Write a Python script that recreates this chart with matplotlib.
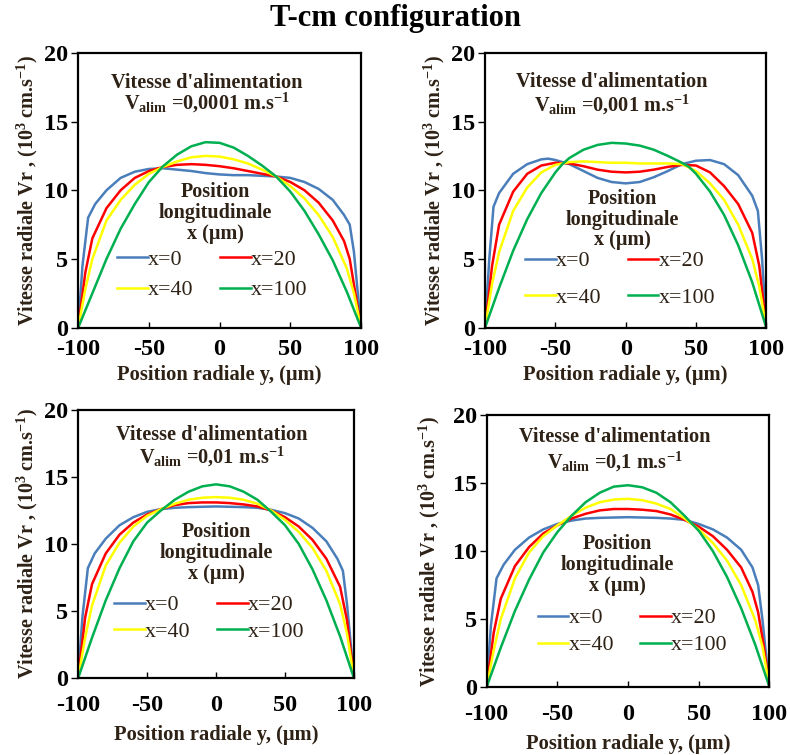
import numpy as np
import matplotlib
matplotlib.use('Agg')
import matplotlib.pyplot as plt

plt.rcParams['font.family'] = 'Liberation Serif'
plt.rcParams['mathtext.fontset'] = 'custom'
plt.rcParams['mathtext.rm'] = 'Liberation Serif:bold'
plt.rcParams['mathtext.it'] = 'Liberation Serif:bold'
plt.rcParams['mathtext.bf'] = 'Liberation Serif:bold'
plt.rcParams['axes.unicode_minus'] = False

# radial positions (um) / radial speed (10^3 cm/s) for each series
y_p1_blue = [-100, -97, -93, -88, -80, -70, -60, -50, -40, -30, -20, -10, 0, 10, 20, 30, 40, 50, 60, 70, 80, 88, 92, 95, 100]
v_p1_blue = [0, 4.5, 8.0, 9.0, 10.0, 10.9, 11.35, 11.55, 11.6, 11.5, 11.4, 11.25, 11.15, 11.1, 11.1, 11.05, 11.0, 10.9, 10.6, 10.1, 9.3, 8.2, 7.5, 5.5, 0]
y_p1_red = [-100, -95, -90, -80, -70, -60, -50, -40, -30, -20, -10, 0, 10, 20, 30, 40, 50, 60, 70, 80, 88, 92, 96, 100]
v_p1_red = [0, 4.0, 6.5, 8.7, 10.0, 10.9, 11.4, 11.7, 11.85, 11.9, 11.85, 11.75, 11.6, 11.4, 11.2, 11.0, 10.6, 10.0, 9.1, 7.8, 6.3, 5.0, 2.5, 0]
y_p1_yellow = [-100, -95, -90, -80, -70, -60, -50, -40, -30, -20, -10, 0, 10, 20, 30, 40, 50, 60, 70, 80, 90, 95, 100]
v_p1_yellow = [0, 2.8, 5.0, 7.8, 9.3, 10.4, 11.2, 11.7, 12.1, 12.4, 12.5, 12.45, 12.25, 11.95, 11.5, 11.0, 10.3, 9.4, 8.2, 6.6, 4.3, 2.5, 0]
y_p1_green = [-100, -90, -80, -70, -60, -50, -40, -30, -20, -10, 0, 10, 20, 30, 40, 50, 60, 70, 80, 90, 100]
v_p1_green = [0, 2.5, 5.0, 7.2, 9.0, 10.6, 11.75, 12.6, 13.2, 13.5, 13.45, 13.1, 12.5, 11.8, 11.0, 9.9, 8.5, 6.8, 4.9, 2.6, 0]

y_p2_blue = [-100, -97, -94, -90, -80, -70, -60, -55, -50, -40, -30, -20, -10, 0, 10, 20, 30, 40, 50, 60, 70, 80, 90, 94, 97, 100]
v_p2_blue = [0, 5.0, 8.8, 9.8, 11.2, 11.9, 12.25, 12.3, 12.2, 11.9, 11.4, 10.9, 10.6, 10.5, 10.6, 10.95, 11.4, 11.9, 12.15, 12.2, 11.9, 11.1, 9.6, 8.5, 5.0, 0]
y_p2_red = [-100, -95, -90, -80, -70, -60, -50, -40, -30, -20, -10, 0, 10, 20, 30, 40, 50, 60, 70, 80, 90, 95, 100]
v_p2_red = [0, 4.5, 7.5, 9.9, 11.2, 11.8, 12.0, 11.95, 11.75, 11.5, 11.35, 11.3, 11.35, 11.5, 11.7, 11.85, 11.8, 11.3, 10.3, 9.0, 6.9, 4.5, 0]
y_p2_yellow = [-100, -95, -90, -80, -70, -60, -50, -40, -30, -20, -10, 0, 10, 20, 30, 40, 50, 60, 70, 80, 90, 95, 100]
v_p2_yellow = [0, 3.2, 5.5, 8.5, 10.2, 11.3, 11.85, 12.05, 12.1, 12.05, 12.0, 12.0, 11.95, 11.95, 11.95, 11.9, 11.4, 10.5, 9.3, 7.5, 5.0, 3.0, 0]
y_p2_green = [-100, -90, -80, -70, -60, -50, -45, -40, -30, -20, -10, 0, 10, 20, 30, 40, 45, 50, 60, 70, 80, 90, 100]
v_p2_green = [0, 2.9, 5.6, 7.9, 9.8, 11.3, 11.9, 12.35, 12.95, 13.3, 13.45, 13.4, 13.25, 12.95, 12.5, 12.0, 11.7, 11.2, 9.9, 8.2, 6.0, 3.3, 0]

y_p3_blue = [-100, -97, -93, -88, -80, -70, -60, -50, -40, -30, -20, 0, 20, 30, 40, 50, 60, 70, 80, 88, 92, 95, 100]
v_p3_blue = [0, 4.5, 8.2, 9.3, 10.4, 11.4, 12.0, 12.4, 12.6, 12.7, 12.75, 12.8, 12.75, 12.7, 12.55, 12.3, 11.9, 11.2, 10.2, 8.9, 8.0, 5.5, 0]
y_p3_red = [-100, -95, -90, -80, -70, -60, -50, -40, -30, -20, -10, 0, 10, 20, 30, 40, 50, 60, 70, 80, 90, 95, 100]
v_p3_red = [0, 4.5, 7.0, 9.3, 10.7, 11.6, 12.2, 12.6, 12.9, 13.05, 13.1, 13.1, 13.05, 12.95, 12.8, 12.5, 12.0, 11.3, 10.3, 8.9, 6.8, 4.3, 0]
y_p3_yellow = [-100, -95, -90, -80, -70, -60, -50, -40, -30, -20, -10, 0, 10, 20, 30, 40, 50, 60, 70, 80, 90, 95, 100]
v_p3_yellow = [0, 3.0, 5.4, 8.4, 10.1, 11.3, 12.1, 12.6, 13.0, 13.3, 13.45, 13.5, 13.45, 13.3, 13.0, 12.5, 11.8, 10.9, 9.7, 8.0, 5.5, 3.3, 0]
y_p3_green = [-100, -90, -80, -70, -60, -50, -40, -30, -20, -10, 0, 10, 20, 30, 40, 50, 60, 70, 80, 90, 100]
v_p3_green = [0, 3.0, 5.8, 8.2, 10.2, 11.6, 12.5, 13.3, 13.9, 14.3, 14.45, 14.3, 13.9, 13.3, 12.4, 11.4, 10.0, 8.1, 5.8, 3.1, 0]

y_p4_blue = [-100, -97, -93, -88, -80, -70, -60, -50, -40, -30, -20, 0, 20, 30, 40, 50, 60, 70, 80, 88, 92, 95, 100]
v_p4_blue = [0, 4.5, 8.0, 9.0, 10.1, 11.0, 11.6, 12.0, 12.25, 12.4, 12.45, 12.5, 12.45, 12.4, 12.3, 12.0, 11.6, 11.0, 10.1, 8.8, 7.5, 5.0, 0]
y_p4_red = [-100, -95, -90, -80, -70, -60, -50, -40, -30, -20, -10, 0, 10, 20, 30, 40, 50, 60, 70, 80, 88, 92, 96, 100]
v_p4_red = [0, 4.0, 6.5, 8.9, 10.3, 11.3, 11.9, 12.4, 12.75, 13.0, 13.1, 13.1, 13.05, 12.95, 12.7, 12.3, 11.8, 11.1, 10.1, 8.8, 7.0, 5.5, 3.0, 0]
y_p4_yellow = [-100, -95, -90, -80, -70, -60, -50, -40, -30, -20, -10, 0, 10, 20, 30, 40, 50, 60, 70, 80, 90, 95, 100]
v_p4_yellow = [0, 2.7, 5.0, 8.0, 9.9, 11.1, 11.9, 12.6, 13.2, 13.6, 13.8, 13.85, 13.75, 13.5, 13.1, 12.4, 11.6, 10.6, 9.3, 7.5, 4.9, 3.0, 0]
y_p4_green = [-100, -90, -80, -70, -60, -50, -40, -30, -20, -10, 0, 10, 20, 30, 40, 50, 60, 70, 80, 90, 100]
v_p4_green = [0, 2.9, 5.6, 7.9, 9.9, 11.4, 12.6, 13.6, 14.3, 14.75, 14.85, 14.7, 14.3, 13.6, 12.6, 11.5, 10.0, 8.1, 5.8, 3.1, 0]

series_labels = ['x=0', 'x=20', 'x=40', 'x=100']
feed_speeds = ['0,0001', '0,001', '0,01', '0,1']
x_ticks = [-100, -50, 0, 50, 100]
y_ticks = [0, 5, 10, 15, 20]

panels = [
    [(y_p1_blue, v_p1_blue), (y_p1_red, v_p1_red), (y_p1_yellow, v_p1_yellow), (y_p1_green, v_p1_green)],
    [(y_p2_blue, v_p2_blue), (y_p2_red, v_p2_red), (y_p2_yellow, v_p2_yellow), (y_p2_green, v_p2_green)],
    [(y_p3_blue, v_p3_blue), (y_p3_red, v_p3_red), (y_p3_yellow, v_p3_yellow), (y_p3_green, v_p3_green)],
    [(y_p4_blue, v_p4_blue), (y_p4_red, v_p4_red), (y_p4_yellow, v_p4_yellow), (y_p4_green, v_p4_green)],
]

colors = ['#4a7ebb', '#ff0000', '#ffff00', '#00b050']
txt_col = '#2e2216'

# layout per panel
boxes = [
    [0.099, 0.566, 0.358, 0.364],
    [0.614, 0.566, 0.356, 0.364],
    [0.099, 0.102, 0.349, 0.355],
    [0.616, 0.090, 0.358, 0.360],
]
note_xy = [(0.456, 0.89, 0.818), (0.452, 0.895, 0.81), (0.485, 0.907, 0.825), (0.452, 0.919, 0.827)]
title_xy = [(0.484, 0.418), (0.487, 0.393), (0.5, 0.466), (0.463, 0.449)]
legend_xy = [(0.474, 0.192), (0.48, 0.175), (0.475, 0.222), (0.516, 0.204)]
legend_sp = [0.45, 0.75, 0.3, 0.3]
tick_pad = [8, 8, 12, 12]
xlab_pad = [4, 4, 7, 7]
ylab_pad = [3, 3, 3, 8]

fig = plt.figure(figsize=(7.9, 7.55), dpi=100)
fig.text(0.5, 0.975, 'T-cm configuration', ha='center', va='center',
         fontsize=22, fontweight='bold')

for i, box in enumerate(boxes):
    ax = fig.add_axes(box)
    lines = []
    for (yy, vv), c, lab in zip(panels[i], colors, series_labels):
        ln, = ax.plot(yy, vv, color=c, lw=1.8, label=lab)
        lines.append(ln)
    ax.set_xlim(-100, 100)
    ax.set_ylim(0, 20)
    ax.set_xticks(x_ticks)
    ax.set_yticks(y_ticks)
    ax.tick_params(axis='x', direction='in', length=4, width=1, labelsize=17.5, pad=tick_pad[i])
    ax.tick_params(axis='y', direction='out', length=5, width=1, labelsize=17.5, pad=2)
    for t in ax.get_xticklabels() + ax.get_yticklabels():
        t.set_fontweight('bold')
    for s in ax.spines.values():
        s.set_linewidth(1.6)
    ax.set_xlabel('Position radiale y, (\u03bcm)', fontsize=14.8, fontweight='bold',
                  color=txt_col, labelpad=xlab_pad[i])
    ax.set_ylabel('Vitesse radiale Vr , (10$^{3}$ cm.s$^{\u22121}$)', fontsize=14.5,
                  fontweight='bold', color=txt_col, labelpad=ylab_pad[i])
    nx, ny1, ny2 = note_xy[i]
    ax.text(nx, ny1, "Vitesse d'alimentation", transform=ax.transAxes,
            ha='center', va='center', fontsize=14.6, fontweight='bold', color=txt_col)
    ax.text(nx, ny2, r'V$_{\mathrm{alim}}$ =' + feed_speeds[i] + ' m.s$^{-1}$',
            transform=ax.transAxes, ha='center', va='center', fontsize=14.6,
            fontweight='bold', color=txt_col)
    tx, ty = title_xy[i]
    ax.text(tx, ty, 'Position\nlongitudinale\nx (\u03bcm)', transform=ax.transAxes,
            ha='center', va='center', multialignment='center', fontsize=14.5,
            fontweight='bold', color=txt_col, linespacing=1.05)
    # row-wise order: x=0, x=20 / x=40, x=100
    order = [0, 2, 1, 3]
    leg = ax.legend([lines[k] for k in order], [series_labels[k] for k in order],
                    ncol=2, loc='center', bbox_to_anchor=legend_xy[i], frameon=False,
                    fontsize=15.8, handlelength=1.4, handletextpad=0.0,
                    columnspacing=1.2, labelspacing=legend_sp[i], borderpad=0)
    for t in leg.get_texts():
        t.set_color(txt_col)

fig.savefig('out.png', dpi=100)
